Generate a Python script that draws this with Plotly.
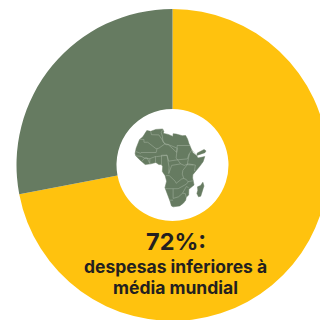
import plotly.graph_objects as go

shares = [72, 28]
slice_colors = ["#FFC20E", "#667B61"]
headline = "72%:"
caption_lines = ["despesas inferiores à", "média mundial"]

# Continental outline, clockwise from Tangier (lon, lat)
africa_lon = [-5.9, -2.0, 3.0, 9.8, 11.0, 10.2, 11.0, 15.2, 19.9, 20.0, 23.0, 29.0, 32.3, 34.2, 35.5, 37.3, 39.5, 43.2, 44.5, 51.2, 49.5, 46.0, 41.5, 39.4, 39.2, 40.6, 35.5, 35.3, 32.9, 32.4, 30.0, 26.5, 20.0, 18.4, 17.0, 14.5, 12.0, 13.6, 12.2, 9.4, 9.7, 8.5, 6.0, 3.0, -2.0, -7.5, -11.0, -13.2, -16.8, -17.4, -16.4, -13.0, -9.8, -6.8, -5.9]
africa_lat = [35.8, 35.1, 36.9, 37.3, 34.5, 33.8, 33.1, 32.3, 30.4, 32.9, 32.6, 31.1, 31.2, 28.0, 24.0, 20.5, 15.2, 12.6, 10.4, 11.8, 7.0, 2.5, -2.0, -5.0, -8.0, -14.5, -18.5, -23.9, -25.9, -28.6, -31.5, -33.9, -34.8, -33.9, -29.5, -22.5, -17.0, -11.0, -6.0, -2.0, 2.5, 4.4, 4.3, 6.3, 5.0, 4.4, 7.0, 9.0, 12.5, 14.7, 19.5, 27.5, 30.0, 34.0, 35.8]
madagascar_lon = [49.3, 50.4, 49.5, 47.2, 45.0, 43.4, 44.3, 44.0, 47.0, 49.3]
madagascar_lat = [-12.0, -15.6, -18.0, -24.9, -25.5, -22.5, -19.5, -16.3, -15.0, -12.0]
arabia_lon = [43.3, 51.3, 52.4, 50.5, 43.8, 43.3]
arabia_lat = [12.8, 15.4, 17.0, 18.3, 15.0, 12.8]

# Country borders as separate runs, split by None
border_lon = [
    -2.0, -1.3, 6.0, 12.0, 15.0, 24.0, 24.0, 36.9, None,
    9.8, 8.3, 9.5, 10.0, 12.0, None,
    -13.2, -8.7, -8.7, -5.0, 3.3, 6.0, 11.9, 14.0, 15.0, 23.5, 24.0, None,
    -16.5, -12.0, -11.5, -5.5, 3.3, 4.2, None,
    -16.7, -12.0, -11.5, -8.0, -2.9, 2.7, 3.6, 14.0, None,
    -11.0, -8.0, -5.5, -3.0, -2.9, None,
    2.7, 2.7, None, 8.6, 8.6, 14.0, 15.7, 24.0, 34.0, None,
    14.0, 15.0, 16.0, 15.7, 18.6, 27.4, 31.0, 35.0, 41.9, 41.0, 41.5, None,
    24.0, 23.0, 27.4, None,
    34.0, 36.0, 38.6, 43.2, None, 36.0, 35.0, 33.9, None,
    33.9, 40.0, None, 33.9, 29.6, 29.0, 30.5, 33.0, 34.5, 40.4, None,
    13.0, 16.2, 22.0, 23.0, 28.4, 30.5, None,
    12.0, 13.0, 24.0, 25.3, 33.0, 35.0, None,
    20.0, 20.0, 25.3, 29.3, 32.0, 32.9, None,
    16.5, 20.0, None, 29.3, 33.0, 35.3,
]
border_lat = [
    35.1, 32.0, 31.8, 23.5, 23.0, 19.5, 22.0, 22.0, None,
    37.0, 34.0, 30.3, 25.3, 23.5, None,
    27.6, 27.6, 25.0, 25.0, 19.0, 19.5, 23.5, 22.5, 23.0, 15.7, 19.5, None,
    16.3, 14.8, 15.5, 15.5, 15.5, 19.0, None,
    12.4, 12.5, 12.0, 10.3, 9.8, 11.8, 11.7, 13.0, None,
    7.0, 10.3, 10.5, 5.3, 9.8, None,
    6.3, 11.8, None, 4.4, 13.0, 13.0, 7.5, 8.7, 9.6, None,
    13.0, 7.5, 2.0, -4.0, 3.6, 5.0, 3.6, 5.0, 3.9, -1.7, -1.0, None,
    19.5, 10.5, 5.0, None,
    9.6, 14.5, 18.0, 12.7, None, 14.5, 9.5, 4.2, None,
    4.2, 4.0, None, 4.2, -1.0, -4.5, -8.5, -9.5, -11.5, -10.5, None,
    -5.9, -5.9, -11.0, -13.0, -9.0, -8.5, None,
    -17.0, -18.0, -18.0, -17.8, -13.8, -11.5, None,
    -18.0, -27.0, -25.5, -22.2, -22.5, -26.0, None,
    -28.6, -28.6, None, -22.2, -16.0, -17.0,
]

fig = go.Figure()

# Ring of shares, starting at twelve o'clock and running clockwise
fig.add_trace(go.Pie(
    values=shares,
    marker=dict(colors=slice_colors, line=dict(width=0)),
    hole=56 / 156,
    sort=False,
    direction="clockwise",
    rotation=0,
    textinfo="none",
    hoverinfo="skip",
    showlegend=False,
    domain=dict(x=[0, 1], y=[9 / 330, 321 / 330]),
))

# Map of the continent inside the hole
for lons, lats in [(africa_lon, africa_lat), (madagascar_lon, madagascar_lat), (arabia_lon, arabia_lat)]:
    fig.add_trace(go.Scatter(
        x=lons, y=lats, mode="lines", fill="toself",
        fillcolor=slice_colors[1], line=dict(color=slice_colors[1], width=0.5),
        hoverinfo="skip", showlegend=False,
    ))
fig.add_trace(go.Scatter(
    x=border_lon, y=border_lat, mode="lines",
    line=dict(color="#A9B7A5", width=0.5),
    hoverinfo="skip", showlegend=False,
))

def add_text(text, px_x, px_y, size):
    fig.add_annotation(
        x=px_x / 345, y=1 - px_y / 330, xref="paper", yref="paper",
        xanchor="center", yanchor="middle", showarrow=False,
        text=f"<b>{text}</b>",
        font=dict(family="Inter", color="#231F20", size=size),
    )

add_text(headline, 176, 241, 23.5)
add_text(caption_lines[0], 175.5, 266, 17.5)
add_text(caption_lines[1], 175.5, 287, 17.5)

fig.update_layout(
    width=345, height=330,
    margin=dict(l=0, r=0, t=0, b=0),
    paper_bgcolor="white", plot_bgcolor="rgba(0,0,0,0)",
    xaxis=dict(visible=False, range=[-150.4, 189.2], domain=[0, 1], fixedrange=True),
    yaxis=dict(visible=False, range=[-148.8, 156.7], domain=[0, 1], fixedrange=True),
)

# The ring runs past the right and bottom edges of the page
fig.write_html(
    "out.html",
    config=dict(displayModeBar=False),
    post_script="document.documentElement.style.overflow='hidden';document.body.style.overflow='hidden';",
)
